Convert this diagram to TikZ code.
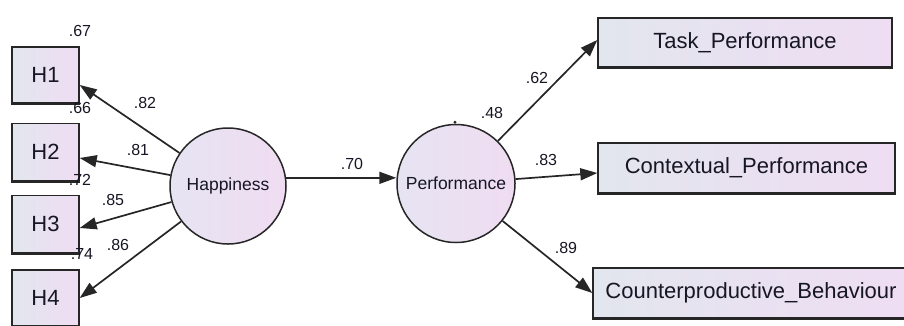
\documentclass[tikz,border=0pt]{standalone}
\usepackage{fontspec}
\setmainfont{Liberation Sans}
\usetikzlibrary{arrows.meta,calc}
\definecolor{edge}{HTML}{262626}
\definecolor{ink}{HTML}{161624}
\definecolor{boxL}{HTML}{E2E6EE}
\definecolor{boxR}{HTML}{EFDDF3}
\definecolor{circL}{HTML}{E6E4F2}
\definecolor{circR}{HTML}{F0DCF2}
\begin{document}
\begin{tikzpicture}[x=1pt,y=-1pt,
  obs/.style={rectangle,draw=edge,line width=1.4pt,left color=boxL,right color=boxR,
    font=\fontsize{22}{22}\selectfont,text=ink,inner sep=0pt},
  lat/.style={circle,draw=edge,line width=1.5pt,left color=circL,right color=circR,
    inner sep=0pt,font=\fontsize{17.5}{17.5}\selectfont,text=ink},
  sempath/.style={draw=edge,line width=1.7pt,-{Triangle[length=17pt,width=12pt]}},
  coef/.style={font=\fontsize{16}{16}\selectfont,text=ink,inner sep=0pt}]
\useasboundingbox (0,0) rectangle (904,325);
\clip (0,0) rectangle (904,325);

% observed indicators of Happiness
\node[obs,minimum width=67pt,minimum height=56pt] (H1) at (45.5,75)  {H1};
\node[obs,minimum width=67pt,minimum height=57pt] (H2) at (45.5,152) {H2};
\node[obs,minimum width=67pt,minimum height=57pt] (H3) at (45.5,224) {H3};
\node[obs,minimum width=67pt,minimum height=56pt] (H4) at (45.5,298) {H4};

% observed indicators of Performance
\node[obs,minimum width=294pt,minimum height=49pt] (TP) at (745,42.5) {Task\_Performance};
\node[obs,minimum width=297pt,minimum height=50pt] (CP) at (746.5,168) {Contextual\_Performance};
\node[obs,minimum width=316pt,minimum height=50pt] (CB) at (751,293) {Counterproductive\_Behaviour};

% heavier lower edge of each box
\foreach \n in {H1,H2,H3,H4,TP,CP,CB}
  \draw[edge,line width=2.8pt] (\n.south west) -- (\n.south east);

% latent variables
\node[lat,minimum size=116pt] (hap)  at (228,186)   {Happiness};
\node[lat,minimum size=118pt] (perf) at (456,183.5) {Performance};
\fill[edge] (perf.north) ++(-1,-1.5) circle (1.6pt);

% loadings and structural path
\draw[sempath] (hap) -- ([yshift=-10pt]H1.east);
\draw[sempath] (hap) -- ([yshift=-6pt]H2.east);
\draw[sempath] (hap) -- ([yshift=-4pt]H3.east);
\draw[sempath] (hap) -- (H4.east);
\draw[sempath] (hap.8) -- (hap.8 -| perf.west);
\draw[sempath] (perf) -- ([yshift=2.5pt]TP.west);
\draw[sempath] (perf) -- ([yshift=-5pt]CP.west);
\draw[sempath] (perf) -- (CB.west);

% estimates
\node[coef] (r67) at (80,31)   {.67};
\node[coef] (l82) at (145,103) {.82};
\node[coef] (r66) at (80,108)  {.66};
\node[coef] (l81) at (138,150) {.81};
\node[coef] (r72) at (80,180)  {.72};
\node[coef] (l85) at (113,200) {.85};
\node[coef] (r74) at (82,254)  {.74};
\node[coef] (l86) at (118,245) {.86};
\node[coef] (b70) at (352,164) {.70};
\node[coef] (r48) at (492,113) {.48};
\node[coef] (l62) at (537,78)  {.62};
\node[coef] (l83) at (546,160) {.83};
\node[coef] (l89) at (566,248) {.89};
\end{tikzpicture}
\end{document}
